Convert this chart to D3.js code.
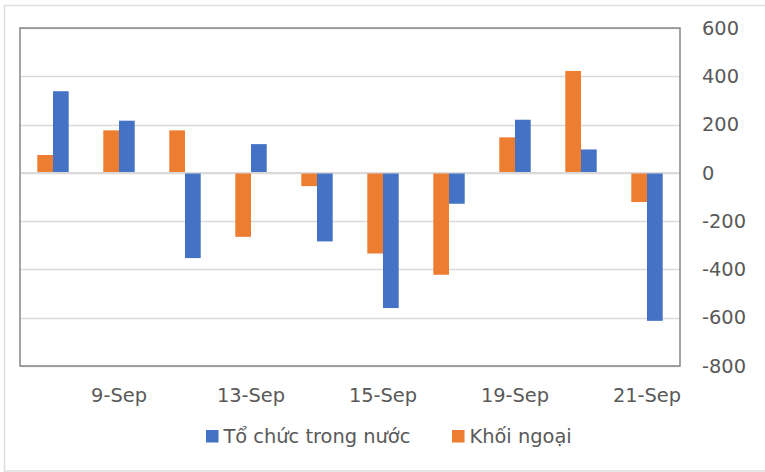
<!DOCTYPE html>
<html>
<head>
<meta charset="utf-8">
<script src="https://cdn.jsdelivr.net/npm/d3@7"></script>
<style>
  html, body { margin: 0; padding: 0; background: #fff; }
  svg { display: block; }
  text { font-family: "DejaVu Sans", Verdana, sans-serif; }
</style>
</head>
<body>
<svg id="chart" width="765" height="472"></svg>
<script>
const categories = ["8-Sep", "9-Sep", "12-Sep", "13-Sep", "14-Sep", "15-Sep", "16-Sep", "19-Sep", "20-Sep", "21-Sep"];
const tickLabels = ["9-Sep", "13-Sep", "15-Sep", "19-Sep", "21-Sep"];
const khoiNgoai = [74, 176, 176, -265, -55, -334, -422, 147, 422, -121];
const toChuc = [338, 216, -353, 119, -284, -560, -128, 220, 97, -613];
const seriesNames = ["Khối ngoại", "Tổ chức trong nước"];
const yTicks = [600, 400, 200, 0, -200, -400, -600, -800];

const W = 765, H = 472;
const plot = { left: 20, top: 28, right: 680, bottom: 366 };
const colors = { "Khối ngoại": "#ED7D31", "Tổ chức trong nước": "#4472C4" };
const FS = 19.4;

const svg = d3.select("#chart");

// outer chart border
svg.append("rect")
  .attr("x", 4.5).attr("y", 5.5)
  .attr("width", W + 10).attr("height", H - 6.5)
  .attr("fill", "#fff").attr("stroke", "#dedede").attr("stroke-width", 1.5);

const x = d3.scaleBand().domain(categories).range([plot.left, plot.right]).padding(0);
const y = d3.scaleLinear().domain([-800, 600]).range([plot.bottom, plot.top]);

const barW = x.bandwidth() * 0.238;
const x1 = d3.scaleBand().domain(seriesNames).range([0, barW * 2]);

// gridlines
svg.append("g").selectAll("line").data(yTicks).join("line")
  .attr("x1", plot.left).attr("x2", plot.right)
  .attr("y1", d => Math.round(y(d)) + 0.5).attr("y2", d => Math.round(y(d)) + 0.5)
  .attr("stroke", "#d9d9d9").attr("stroke-width", 1.5);

// bars
const data = categories.map((c, i) => ({ c, vals: [
  { s: "Khối ngoại", v: khoiNgoai[i] },
  { s: "Tổ chức trong nước", v: toChuc[i] }
]}));

const groups = svg.append("g").selectAll("g").data(data).join("g")
  .attr("transform", d => `translate(${x(d.c) + x.bandwidth() / 2 - barW},0)`);
groups.selectAll("rect").data(d => d.vals).join("rect")
  .attr("x", d => x1(d.s))
  .attr("width", x1.bandwidth())
  .attr("y", d => y(Math.max(0, d.v)))
  .attr("height", d => Math.abs(y(d.v) - y(0)))
  .attr("fill", d => colors[d.s]);

// zero line on top
svg.append("line")
  .attr("x1", plot.left).attr("x2", plot.right)
  .attr("y1", y(0)).attr("y2", y(0))
  .attr("stroke", "#d9d9d9").attr("stroke-width", 1.5);

// plot border
svg.append("rect")
  .attr("x", plot.left).attr("y", plot.top)
  .attr("width", plot.right - plot.left).attr("height", plot.bottom - plot.top)
  .attr("fill", "none").attr("stroke", "#868686").attr("stroke-width", 1.5);

// right y axis labels
const yAxis = d3.axisRight(y).tickValues(yTicks).tickSize(0).tickPadding(22)
  .tickFormat(d => String(d));
const ya = svg.append("g").attr("transform", `translate(${plot.right},0)`).call(yAxis);
ya.select(".domain").remove();
ya.selectAll("text").attr("font-size", FS).attr("fill", "#595959")
  .attr("font-family", "DejaVu Sans, Verdana, sans-serif");

// x axis labels
const xAxis = d3.axisBottom(x).tickValues(tickLabels).tickSize(0).tickPadding(22);
const xa = svg.append("g").attr("transform", `translate(0,${plot.bottom})`).call(xAxis);
xa.select(".domain").remove();
xa.selectAll("text").attr("font-size", FS).attr("fill", "#595959")
  .attr("font-family", "DejaVu Sans, Verdana, sans-serif");

// legend
const legendItems = [
  { name: "Tổ chức trong nước", x: 206 },
  { name: "Khối ngoại", x: 452 }
];
const lg = svg.append("g").selectAll("g").data(legendItems).join("g")
  .attr("transform", d => `translate(${d.x},430)`);
lg.append("rect").attr("width", 12.5).attr("height", 12.5).attr("fill", d => colors[d.name]);
lg.append("text").attr("x", 17.5).attr("y", 13)
  .attr("font-size", FS).attr("fill", "#595959").text(d => d.name);
</script>
</body>
</html>
